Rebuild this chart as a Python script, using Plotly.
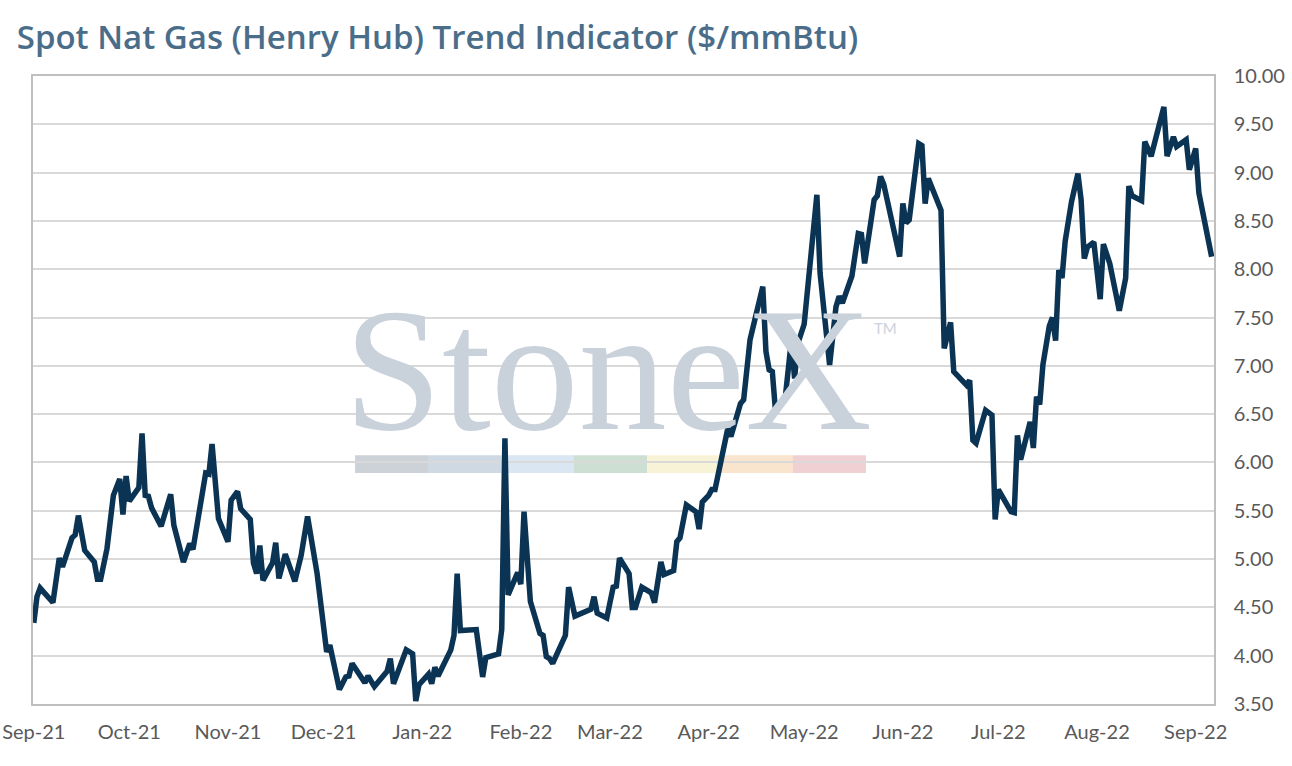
import plotly.graph_objects as go

# Henry Hub spot, $/mmBtu
dates = [
    "2021-09-01", "2021-09-02", "2021-09-03", "2021-09-07", "2021-09-09", "2021-09-10",
    "2021-09-13", "2021-09-14", "2021-09-15", "2021-09-17", "2021-09-20", "2021-09-21",
    "2021-09-22", "2021-09-24", "2021-09-26", "2021-09-28", "2021-09-29", "2021-09-30",
    "2021-10-01", "2021-10-04", "2021-10-05", "2021-10-06", "2021-10-07", "2021-10-08",
    "2021-10-11", "2021-10-14", "2021-10-15", "2021-10-18", "2021-10-20", "2021-10-21",
    "2021-10-25", "2021-10-26", "2021-10-27", "2021-10-29",
    "2021-11-01", "2021-11-02", "2021-11-04", "2021-11-05", "2021-11-08", "2021-11-09",
    "2021-11-10", "2021-11-11", "2021-11-12", "2021-11-15", "2021-11-16", "2021-11-17",
    "2021-11-19", "2021-11-22", "2021-11-24", "2021-11-26", "2021-11-29",
    "2021-12-02", "2021-12-03", "2021-12-06", "2021-12-08", "2021-12-09", "2021-12-10",
    "2021-12-14", "2021-12-15", "2021-12-17", "2021-12-21", "2021-12-22", "2021-12-23",
    "2021-12-27", "2021-12-29", "2021-12-30", "2021-12-31",
    "2022-01-03", "2022-01-04", "2022-01-05", "2022-01-06", "2022-01-10", "2022-01-11",
    "2022-01-12", "2022-01-13", "2022-01-18", "2022-01-20", "2022-01-21", "2022-01-25",
    "2022-01-26", "2022-01-27", "2022-01-28", "2022-01-31",
    "2022-02-01", "2022-02-02", "2022-02-04", "2022-02-07", "2022-02-08", "2022-02-09",
    "2022-02-10", "2022-02-11", "2022-02-15", "2022-02-16", "2022-02-18", "2022-02-23",
    "2022-02-24", "2022-02-25", "2022-02-28",
    "2022-03-02", "2022-03-03", "2022-03-04", "2022-03-07", "2022-03-08", "2022-03-09",
    "2022-03-11", "2022-03-14", "2022-03-15", "2022-03-17", "2022-03-18", "2022-03-21",
    "2022-03-22", "2022-03-23", "2022-03-25", "2022-03-28", "2022-03-29", "2022-03-30",
    "2022-04-01", "2022-04-02", "2022-04-03", "2022-04-05", "2022-04-07", "2022-04-08",
    "2022-04-11", "2022-04-12", "2022-04-14", "2022-04-18", "2022-04-19", "2022-04-20",
    "2022-04-21", "2022-04-22", "2022-04-25", "2022-04-27", "2022-04-28", "2022-04-29",
    "2022-05-01", "2022-05-05", "2022-05-06", "2022-05-09", "2022-05-11", "2022-05-12",
    "2022-05-13", "2022-05-16", "2022-05-18", "2022-05-19", "2022-05-20", "2022-05-23",
    "2022-05-24", "2022-05-25", "2022-05-26", "2022-05-31",
    "2022-06-01", "2022-06-02", "2022-06-03", "2022-06-06", "2022-06-07", "2022-06-08",
    "2022-06-09", "2022-06-13", "2022-06-14", "2022-06-16", "2022-06-17", "2022-06-21",
    "2022-06-22", "2022-06-23", "2022-06-24", "2022-06-27", "2022-06-29", "2022-06-30",
    "2022-07-01", "2022-07-05", "2022-07-06", "2022-07-07", "2022-07-08", "2022-07-11",
    "2022-07-12", "2022-07-13", "2022-07-14", "2022-07-15", "2022-07-17", "2022-07-18",
    "2022-07-19", "2022-07-20", "2022-07-21", "2022-07-22", "2022-07-24", "2022-07-26",
    "2022-07-27", "2022-07-28", "2022-07-29", "2022-07-31",
    "2022-08-02", "2022-08-03", "2022-08-05", "2022-08-08", "2022-08-10", "2022-08-11",
    "2022-08-12", "2022-08-15", "2022-08-16", "2022-08-18", "2022-08-20", "2022-08-22",
    "2022-08-23", "2022-08-25", "2022-08-26", "2022-08-29", "2022-08-30",
    "2022-09-01", "2022-09-02", "2022-09-06",
]
prices = [
    4.34, 4.61, 4.70, 4.55, 5.01, 4.92,
    5.22, 5.25, 5.45, 5.09, 4.97, 4.79,
    4.79, 5.11, 5.66, 5.83, 5.46, 5.86,
    5.60, 5.74, 6.30, 5.66, 5.65, 5.53,
    5.34, 5.67, 5.35, 4.97, 5.16, 5.10,
    5.89, 5.88, 6.19, 5.42,
    5.18, 5.61, 5.70, 5.52, 5.41, 4.96,
    4.85, 5.14, 4.78, 4.96, 5.17, 4.80,
    5.05, 4.77, 5.04, 5.44, 4.85,
    4.04, 4.11, 3.65, 3.78, 3.79, 3.92,
    3.72, 3.79, 3.68, 3.84, 3.97, 3.71,
    4.06, 4.02, 3.53, 3.70,
    3.81, 3.71, 3.88, 3.79, 4.06, 4.21,
    4.85, 4.26, 4.27, 3.78, 3.98, 4.02,
    4.27, 6.25, 4.63, 4.86,
    4.74, 5.49, 4.56, 4.23, 4.21, 3.99,
    3.97, 3.92, 4.21, 4.71, 4.41, 4.48,
    4.61, 4.44, 4.39,
    4.71, 4.72, 5.01, 4.85, 4.50, 4.50,
    4.71, 4.65, 4.55, 4.97, 4.84, 4.88,
    5.18, 5.22, 5.56, 5.49, 5.31, 5.59,
    5.66, 5.72, 5.72, 6.03, 6.35, 6.27,
    6.61, 6.65, 7.27, 7.82, 7.15, 6.96,
    6.94, 6.53, 6.65, 7.27, 6.87, 7.23,
    7.43, 8.77, 7.96, 7.01, 7.61, 7.72,
    7.65, 7.93, 8.37, 8.36, 8.06, 8.72,
    8.76, 8.96, 8.88, 8.13,
    8.68, 8.48, 8.51, 9.30, 9.28, 8.68,
    8.94, 8.61, 7.18, 7.45, 6.94, 6.80,
    6.85, 6.23, 6.20, 6.54, 6.49, 5.41,
    5.72, 5.49, 5.48, 6.28, 6.03, 6.42,
    6.15, 6.68, 6.60, 7.01, 7.41, 7.50,
    7.26, 7.99, 7.91, 8.29, 8.70, 8.99,
    8.72, 8.11, 8.23, 8.28,
    7.69, 8.26, 8.06, 7.57, 7.91, 8.86,
    8.76, 8.71, 9.32, 9.17, 9.41, 9.68,
    9.17, 9.37, 9.27, 9.34, 9.03,
    9.25, 8.79, 8.13,
]

title = "Spot Nat Gas (Henry Hub) Trend Indicator ($/mmBtu)"
logo_text = "StoneX"
logo_bar_colors = ["#cdd2d8", "#cfd9e3", "#dae6f1", "#cddfd2", "#f8f3d6", "#f9e4cd", "#f1d0d3"]

fig = go.Figure()
fig.add_trace(go.Scatter(
    x=dates, y=prices, mode="lines",
    line=dict(color="#0b3354", width=5.5),
    hovertemplate="%{x|%d %b %Y}: %{y:.2f}<extra></extra>",
))

# watermark
fig.add_annotation(
    text=logo_text, xref="paper", yref="paper", x=0.487, y=0.533,
    xanchor="center", yanchor="middle", showarrow=False,
    font=dict(family="Liberation Serif", size=176, color="#c9d1db"),
)
fig.add_annotation(
    text="TM", xref="paper", yref="paper", x=0.722, y=0.598,
    xanchor="center", yanchor="middle", showarrow=False,
    font=dict(family="Lato", size=15, color="#cbd3dc"),
)
seg = (0.7053 - 0.2727) / len(logo_bar_colors)
for i, c in enumerate(logo_bar_colors):
    fig.add_shape(type="rect", xref="paper", yref="paper",
                  x0=0.2727 + i * seg, x1=0.2727 + (i + 1) * seg, y0=0.368, y1=0.396,
                  fillcolor=c, line_width=0, layer="below")

tick_font = dict(family="Lato", size=20, color="#595959")

fig.update_layout(
    width=1292, height=766,
    margin=dict(l=33, r=78, t=76, b=62),
    paper_bgcolor="white", plot_bgcolor="rgba(0,0,0,0)",
    showlegend=False,
    title=dict(text=title, xref="container", yref="container",
               x=0.013, xanchor="left", y=0.951, yanchor="middle",
               font=dict(family="Open Sans", size=33, weight=600, color="#4a6d8a")),
    xaxis=dict(
        type="date", range=["2021-08-31 18:00", "2022-09-06 18:00"],
        tick0="2021-09-01", dtick="M1", tickformat="%b-%y",
        showgrid=False, showline=True, linecolor="#bfbfbf", linewidth=1.5, mirror=True,
        ticks="", tickfont=tick_font, ticklabelstandoff=9, automargin=False,
    ),
    yaxis=dict(
        side="right", range=[3.5, 10], tick0=3.5, dtick=0.5, tickformat=".2f",
        showgrid=True, gridcolor="#d9d9d9", gridwidth=1.5, zeroline=False,
        showline=True, linecolor="#bfbfbf", linewidth=1.5, mirror=True,
        ticks="", tickfont=tick_font, ticklabelstandoff=14, automargin=False,
    ),
)

# drop the browser's default 8px page margin so the figure sits at the window origin
fig.write_html("out.html", config={"displayModeBar": False},
               post_script="document.body.style.margin = '0px';")
